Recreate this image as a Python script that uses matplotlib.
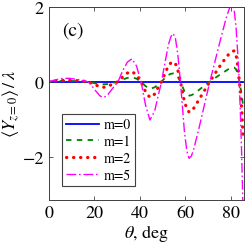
import numpy as np
import matplotlib
matplotlib.use('Agg')
import matplotlib.pyplot as plt

plt.rcParams['font.family'] = 'STIXGeneral'
plt.rcParams['mathtext.fontset'] = 'stix'

theta = [0, 3, 6, 9, 12, 15, 17.5, 20, 22.5, 24, 25.5, 27.5, 30.4, 32.5, 34.5,
         36.5, 38.5, 40.5, 42.5, 44.4, 46.5, 48, 49.5, 51, 52.5, 53.6, 54.6,
         55.6, 56.6, 57.8, 59.5, 60.6, 61.6, 62.6, 63.5, 65.5, 68, 70.7, 73,
         75.5, 78, 79.3, 80.3, 81.3, 82.2, 83, 83.6, 84.2, 84.7, 85.2]

m0 = [0.0] * len(theta)
m1 = [0, 0.01, 0.02, 0.02, 0.015, 0.005, 0, -0.04, -0.065, -0.07, -0.065, -0.04, 0,
      0.06, 0.1, 0.12, 0.08, 0, -0.12, -0.19, -0.15, -0.07, 0, 0.1, 0.18, 0.21,
      0.22, 0.2, 0.13, 0, -0.25, -0.33, -0.37, -0.36, -0.33, -0.24, -0.12, 0,
      0.1, 0.2, 0.3, 0.35, 0.37, 0.38, 0.33, 0.2, 0.02, -0.18, -0.35, -0.6]
m2 = [0, 0.02, 0.035, 0.04, 0.03, 0.015, 0, -0.08, -0.13, -0.15, -0.13, -0.08, 0,
      0.13, 0.23, 0.27, 0.18, 0, -0.27, -0.42, -0.33, -0.15, 0, 0.22, 0.42, 0.5,
      0.53, 0.48, 0.32, 0, -0.52, -0.72, -0.81, -0.79, -0.72, -0.52, -0.27, 0,
      0.22, 0.45, 0.66, 0.75, 0.8, 0.82, 0.72, 0.4, 0.05, -0.35, -0.75, -1.4]
m5 = [0, 0.05, 0.085, 0.09, 0.065, 0.03, -0.01, -0.2, -0.38, -0.42, -0.38, -0.22, 0,
      0.3, 0.52, 0.61, 0.42, 0, -0.63, -1.02, -0.78, -0.38, 0, 0.5, 0.98, 1.2,
      1.28, 1.15, 0.75, 0, -1.3, -1.85, -2.04, -1.98, -1.82, -1.35, -0.7, 0,
      0.55, 1.15, 1.72, 1.95, 2.05, 1.95, 1.45, 0.7, 0, -1.0, -2.0, -3.3]

fig = plt.figure(figsize=(2.45, 2.51), dpi=100)
ax = fig.add_axes([0.199, 0.199, 0.797, 0.771])

ax.plot(theta, m0, '-', color='#0000ff', lw=1.3, label='m=0')
ax.plot(theta, m1, color='#008000', lw=1.3, dashes=(3, 3), label='m=1')
ax.plot(theta, m2, color='#ff0000', lw=2.3, dashes=(0.1, 2.1),
        dash_capstyle='round', label='m=2')
ax.plot(theta, m5, color='#ff00ff', lw=1.0, dashes=(7, 2, 1.2, 2), label='m=5')

ax.set_xlim(0, 85.7)
ax.set_ylim(-3.15, 2)
ax.set_xticks([0, 20, 40, 60, 80])
ax.set_yticks([-2, 0, 2])
ax.tick_params(direction='in', top=True, right=True, length=3, width=0.6,
               labelsize=13, color='#404040')
for s in ax.spines.values():
    s.set_color('#404040')
    s.set_linewidth(0.7)

ax.set_xlabel(r'$\theta$, deg', fontsize=13, labelpad=1)
ax.set_ylabel(r'$\langle Y_{z=0}\rangle\,/\,\lambda$', fontsize=13, labelpad=0)
ax.text(0.068, 0.878, '(c)', transform=ax.transAxes, fontsize=14, va='center', ha='left')

leg = ax.legend(loc='lower left', bbox_to_anchor=(0.066, 0.072), borderaxespad=0,
                fontsize=10, handlelength=2.4, labelspacing=0.25, handletextpad=0.3,
                borderpad=0.3, fancybox=False, framealpha=1, edgecolor='#404040')
leg.get_frame().set_linewidth(0.8)

fig.savefig('out.png', dpi=100)
